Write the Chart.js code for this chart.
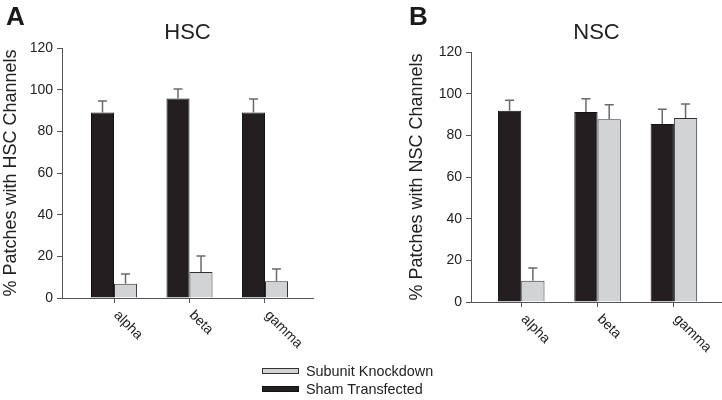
<!DOCTYPE html>
<html>
<head>
<meta charset="utf-8">
<script src="https://cdn.jsdelivr.net/npm/chart.js@4"></script>
<style>
  html, body { margin: 0; padding: 0; background: #fff; }
  body { width: 722px; height: 400px; position: relative; overflow: hidden; font-family: "Liberation Sans", Arial, sans-serif; }
  canvas { position: absolute; top: 0; }
  .panel { position: absolute; top: 3px; font-size: 26px; line-height: 26px; font-weight: bold; color: #1a1a1a; }
  .legrow { position: absolute; height: 16px; display: flex; align-items: center; font-size: 14.4px; color: #222; }
  .legbox { width: 35px; height: 4px; border: 1px solid #444; margin-right: 7px; }
</style>
</head>
<body>
<canvas id="cA" width="361" height="400" style="left:0"></canvas>
<canvas id="cB" width="361" height="400" style="left:361px"></canvas>
<div class="panel" style="left:6px">A</div>
<div class="panel" style="left:409px">B</div>
<div id="legend"></div>
<script>
// ---- data ----
const categories = ['alpha', 'beta', 'gamma'];
const seriesLabels = ['Sham Transfected', 'Subunit Knockdown'];
const yTicks = [0, 20, 40, 60, 80, 100, 120];

const hscSham    = [89.1, 95.8, 89.1];
const hscShamErr = [5.5, 4.5, 6.4];
const hscKd      = [6.9, 12.5, 8.0];
const hscKdErr   = [4.6, 7.7, 5.9];

const nscSham    = [91.8, 91.2, 85.4];
const nscShamErr = [5.0, 6.4, 7.1];
const nscKd      = [10.2, 87.7, 88.3];
const nscKdErr   = [6.1, 7.0, 6.7];

// ---- styles ----
const fills   = ['#231f20', '#d1d3d4'];
const borders = ['#111111', '#333333'];
const axisColor = '#555555';
const textColor = '#222222';
const fontFam = '"Liberation Sans", Arial, sans-serif';

const errorBarPlugin = {
  id: 'errorBars',
  afterDatasetsDraw(chart) {
    const ctx = chart.ctx;
    const ys = chart.scales.y;
    ctx.save();
    ctx.strokeStyle = '#6a6a6a';
    ctx.lineWidth = 1.5;
    chart.data.datasets.forEach((ds, i) => {
      const meta = chart.getDatasetMeta(i);
      meta.data.forEach((el, j) => {
        const v = ds.data[j].y, e = ds.errors[j];
        const yTop = ys.getPixelForValue(v + e);
        ctx.beginPath();
        ctx.moveTo(el.x, el.y);
        ctx.lineTo(el.x, yTop);
        ctx.moveTo(el.x - 4.5, yTop);
        ctx.lineTo(el.x + 4.5, yTop);
        ctx.stroke();
      });
    });
    ctx.restore();
  }
};

const rotatedLabelsPlugin = {
  id: 'rotLabels',
  afterDraw(chart) {
    const ctx = chart.ctx;
    const xs = chart.scales.x;
    ctx.save();
    ctx.font = '14px ' + fontFam;
    ctx.fillStyle = textColor;
    ctx.textAlign = 'left';
    ctx.textBaseline = 'middle';
    categories.forEach((c, i) => {
      const px = xs.getPixelForValue(i + 1);
      ctx.save();
      ctx.translate(px + 2, chart.chartArea.bottom + 15);
      ctx.rotate(Math.PI / 4);
      ctx.fillText(c, 0, 0);
      ctx.restore();
    });
    ctx.restore();
  }
};

function makeChart(id, title, yTitle, sham, shamErr, kd, kdErr, cfg) {
  const toPts = arr => arr.map((v, i) => ({ x: i + 1, y: v }));
  return new Chart(document.getElementById(id), {
    type: 'bar',
    data: {
      datasets: [
        { label: seriesLabels[0], data: toPts(sham), errors: shamErr,
          backgroundColor: fills[0], borderColor: borders[0], borderWidth: 1 },
        { label: seriesLabels[1], data: toPts(kd), errors: kdErr,
          backgroundColor: fills[1], borderColor: borders[1], borderWidth: 1 }
      ]
    },
    options: {
      responsive: false,
      devicePixelRatio: 1,
      animation: false,
      layout: { padding: { left: cfg.padLeft, right: cfg.padRight, top: 0, bottom: 0 } },
      datasets: { bar: { categoryPercentage: 0.61, barPercentage: 1.0 } },
      plugins: {
        legend: { display: false },
        tooltip: { enabled: false },
        title: {
          display: true, text: title, fullSize: false, color: textColor,
          font: { family: fontFam, size: 22, weight: 'normal' },
          padding: { top: 20, bottom: cfg.titleBottom }
        }
      },
      scales: {
        x: {
          type: 'linear', min: cfg.xMin, max: cfg.xMax, offset: false, grace: 0,
          afterBuildTicks(s) { s.ticks = categories.map((c, i) => ({ value: i + 1 })); },
          afterFit(s) { s.height = cfg.xHeight; },
          ticks: { display: false },
          grid: { drawOnChartArea: false, drawTicks: true, tickLength: 5, color: axisColor, offset: false },
          border: { display: true, color: axisColor, width: 1 }
        },
        y: {
          min: 0, max: 120,
          afterBuildTicks(s) { s.ticks = yTicks.map(v => ({ value: v })); },
          afterFit(s) { s.width = cfg.yWidth; },
          ticks: { color: textColor, font: { family: fontFam, size: 14 }, padding: 4 },
          grid: { drawOnChartArea: false, drawTicks: true, tickLength: 5, color: axisColor },
          border: { display: true, color: axisColor, width: 1 },
          title: { display: true, text: yTitle, color: textColor,
                   font: { family: fontFam, size: 18 }, padding: { top: 0, bottom: 0 } }
        }
      }
    },
    plugins: [errorBarPlugin, rotatedLabelsPlugin]
  });
}

const chartA = makeChart('cA', 'HSC', '% Patches with HSC Channels', hscSham, hscShamErr, hscKd, hscKdErr,
  { padLeft: 0, padRight: 48, yWidth: 62, xHeight: 102, titleBottom: 1.6, xMin: 0.311, xMax: 3.636 });
const chartB = makeChart('cB', 'NSC', '% Patches with NSC Channels', nscSham, nscShamErr, nscKd, nscKdErr,
  { padLeft: 45, padRight: 0, yWidth: 65, xHeight: 98, titleBottom: 5.6, xMin: 0.342, xMax: 3.63 });

// ---- HTML legend built from the datasets (knockdown listed first) ----
const legend = document.getElementById('legend');
const legendOrder = [1, 0];
const legendTops = [363, 381.3];
legendOrder.forEach((di, k) => {
  const ds = chartA.data.datasets[di];
  const row = document.createElement('div');
  row.className = 'legrow';
  row.style.left = '262px';
  row.style.top = legendTops[k] + 'px';
  const box = document.createElement('div');
  box.className = 'legbox';
  box.style.background = ds.backgroundColor;
  box.style.borderColor = ds.borderColor;
  const txt = document.createElement('span');
  txt.textContent = ds.label;
  row.appendChild(box);
  row.appendChild(txt);
  legend.appendChild(row);
});
</script>
</body>
</html>
